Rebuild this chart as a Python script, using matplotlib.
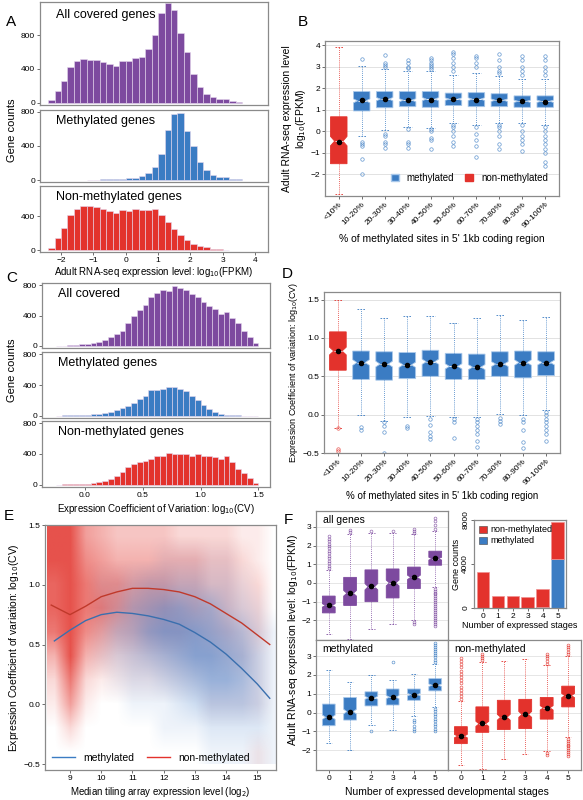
import matplotlib
matplotlib.use('Agg')
import matplotlib.pyplot as plt
from matplotlib.lines import Line2D
from matplotlib.patches import Patch
import numpy as np

plt.rcParams['font.family'] = ['Liberation Sans', 'DejaVu Sans']
plt.rcParams['font.size'] = 7

PURPLE = '#7d4a9f'
BLUE = '#3b7cc3'
RED = '#e3322c'
FRAME = '#8a8a8a'

# ---------------- data ----------------
# A: histograms of log10(FPKM), bins of 0.2
a_edges_all = -2.4
a_all = [30, 140, 260, 420, 490, 520, 510, 505, 480, 460, 440, 495, 490, 535, 540,
         630, 800, 1060, 1180, 1100, 820, 600, 340, 190, 110, 70, 50, 45, 20, 10]
a_meth_start = -1.2
a_meth = [3, 5, 10, 10, 15, 15, 25, 30, 55, 85, 150, 310, 590, 770, 790, 580, 400,
          210, 120, 60, 40, 40, 20, 10]
a_non = [25, 140, 260, 420, 490, 520, 525, 510, 490, 465, 440, 475, 470, 490, 480,
         480, 490, 420, 330, 250, 180, 120, 70, 50, 35, 20, 12, 8]

# C: histograms of log10(CV), bins of 0.05 from -0.25
c_all = [2, 3, 8, 12, 18, 25, 35, 55, 80, 110, 150, 200, 300, 390, 470, 540, 640, 700,
         740, 730, 790, 770, 740, 690, 640, 580, 530, 480, 420, 440, 370, 300, 200, 120, 40]
c_meth = [2, 3, 5, 10, 12, 15, 18, 25, 35, 50, 70, 100, 130, 170, 220, 260, 330, 340,
          350, 375, 370, 350, 320, 260, 200, 140, 90, 50, 25, 15, 8, 4, 2, 1, 0]
c_non = [1, 3, 5, 8, 10, 15, 20, 35, 50, 80, 110, 160, 230, 270, 300, 310, 330, 370,
         380, 410, 400, 400, 395, 380, 395, 370, 370, 360, 330, 370, 300, 200, 150, 90, 20]

meth_cats = ['<10%', '10-20%', '20-30%', '30-40%', '40-50%', '50-60%', '60-70%',
             '70-80%', '80-90%', '90-100%']
# B: (q1, med, q3, whislo, whishi, mean)
b_stats = [(-1.5, -0.45, 0.68, -2.9, 3.9, -0.47),
           (0.95, 1.42, 1.85, -0.22, 3.02, 1.45),
           (1.1, 1.5, 1.85, 0.07, 2.9, 1.5),
           (1.15, 1.45, 1.85, 0.22, 2.8, 1.46),
           (1.12, 1.5, 1.85, 0.18, 2.8, 1.48),
           (1.2, 1.5, 1.78, 0.4, 2.6, 1.5),
           (1.15, 1.5, 1.8, 0.3, 2.7, 1.48),
           (1.15, 1.45, 1.75, 0.38, 2.58, 1.45),
           (1.12, 1.4, 1.65, 0.38, 2.45, 1.39),
           (1.12, 1.4, 1.65, 0.3, 2.45, 1.38)]
b_fliers = [[],
            [3.35, -0.5, -0.6, -0.7, -1.3, -2.0],
            [3.55, 3.2, 3.1, 3.0, -0.1, -0.2, -0.5, -0.6, -0.75],
            [3.3, 3.2, 3.0, 2.95, 0.1, -0.5, -0.6, -0.75],
            [3.4, 3.3, 3.2, 3.1, 3.0, 2.9, 0.1, 0.0, -0.3, -0.4, -0.8],
            [3.7, 3.6, 3.4, 3.2, 3.0, 2.8, 0.3, 0.2, 0.0, -0.2, -0.5, -0.7],
            [3.5, 3.4, 3.2, 3.0, 0.2, -0.1, -0.4, -0.7, -1.2],
            [3.6, 3.3, 3.0, 2.8, 2.7, 0.3, 0.2, 0.0, -0.2, -0.6, -0.8],
            [3.5, 3.3, 3.0, 2.8, 2.6, 0.3, 0.0, -0.2, -0.4, -0.6, -0.9],
            [3.5, 3.3, 3.0, 2.8, 2.6, 0.2, 0.0, -0.2, -0.4, -0.6, -0.8, -1.0, -1.4, -1.6]]
# D
d_stats = [(0.58, 0.83, 1.08, -0.18, 1.5, 0.83),
           (0.46, 0.68, 0.83, 0.0, 1.38, 0.68),
           (0.45, 0.66, 0.82, -0.08, 1.26, 0.66),
           (0.47, 0.65, 0.81, -0.03, 1.29, 0.65),
           (0.5, 0.69, 0.84, -0.02, 1.29, 0.69),
           (0.46, 0.63, 0.8, -0.03, 1.19, 0.63),
           (0.46, 0.62, 0.79, -0.03, 1.26, 0.62),
           (0.5, 0.66, 0.82, 0.01, 1.3, 0.66),
           (0.48, 0.68, 0.83, 0.0, 1.24, 0.68),
           (0.51, 0.68, 0.82, 0.06, 1.27, 0.68)]
d_fliers = [[-0.18, -0.45, -0.48],
            [-0.16, -0.2],
            [-0.1, -0.15, -0.23, -0.5],
            [-0.15, -0.17],
            [-0.06, -0.14, -0.22, -0.28, -0.32],
            [-0.06, -0.1, -0.31],
            [-0.05, -0.1, -0.15, -0.2, -0.25, -0.34, -0.42],
            [-0.04, -0.08, -0.12],
            [-0.06, -0.1, -0.2, -0.35, -0.43],
            [0.04, 0.0, -0.05, -0.1, -0.15, -0.2, -0.25, -0.34]]

# E: density grids (rows: y from 1.4 down to -0.4, cols: x 8.5 .. 15.5)
e_x = np.arange(8.5, 15.51, 0.5)
e_y = np.arange(1.4, -0.41, -0.2)
e_red = np.array([
    [9, 9, 5, 4, 3, 3, 3, 3, 2, 2, 2, 2, 1, 1, 0],
    [9, 9, 6, 5, 4, 4, 4, 4, 4, 4, 3, 3, 2, 1, 0],
    [8, 9, 7, 6, 6, 5, 5, 5, 4, 4, 3, 3, 2, 2, 0],
    [8, 9, 7, 7, 6, 5, 5, 5, 4, 4, 3, 3, 2, 2, 0],
    [7, 9, 6, 5, 4, 4, 4, 4, 4, 3, 3, 3, 2, 2, 0],
    [4, 9, 4, 3, 2, 2, 2, 2, 2, 2, 2, 2, 2, 1, 0],
    [2, 7, 2, 1, 1, 1, 1, 1, 1, 1, 1, 1, 1, 1, 0],
    [1, 5, 1, 0, 0, 0, 0, 0, 0, 0, 1, 1, 1, 1, 0],
    [0, 2, 0, 0, 0, 0, 0, 0, 0, 0, 0, 0, 0, 0, 0],
    [0, 0, 0, 0, 0, 0, 0, 0, 0, 0, 0, 0, 0, 1, 0]])
e_blue = np.array([
    [0, 0, 0, 0, 0, 0, 0, 0, 0, 0, 0, 0, 0, 0, 0],
    [0, 0, 0, 0, 0, 0, 0, 1, 1, 1, 1, 1, 0, 0, 0],
    [0, 0, 0, 1, 1, 2, 3, 3, 3, 3, 2, 2, 1, 0, 0],
    [0, 0, 0, 1, 2, 4, 5, 6, 6, 5, 5, 3, 2, 1, 0],
    [0, 0, 0, 1, 3, 4, 6, 7, 7, 7, 6, 5, 4, 2, 1],
    [0, 0, 0, 1, 2, 3, 4, 5, 6, 7, 7, 6, 5, 3, 1],
    [0, 0, 0, 0, 1, 2, 2, 3, 4, 5, 6, 6, 5, 3, 1],
    [0, 0, 0, 0, 0, 1, 1, 1, 2, 3, 4, 4, 4, 3, 1],
    [0, 0, 0, 0, 0, 0, 0, 1, 1, 1, 2, 2, 2, 2, 1],
    [0, 0, 0, 0, 0, 0, 0, 0, 0, 0, 1, 1, 1, 1, 1]])
fit_x_red = [8.4, 9, 9.5, 10, 10.5, 11, 11.5, 12, 12.5, 13, 13.5, 14, 14.5, 15, 15.4]
fit_y_red = [0.83, 0.75, 0.82, 0.9, 0.94, 0.97, 0.97, 0.96, 0.94, 0.9, 0.84, 0.76, 0.68, 0.58, 0.5]
fit_x_blue = [8.5, 9, 9.5, 10, 10.5, 11, 11.5, 12, 12.5, 13, 13.5, 14, 14.5, 15, 15.4]
fit_y_blue = [0.53, 0.62, 0.7, 0.75, 0.77, 0.76, 0.74, 0.71, 0.67, 0.6, 0.52, 0.42, 0.3, 0.17, 0.05]

# F
stages = [0, 1, 2, 3, 4, 5]
f_all = [(-1.6, -1.2, -0.7, -2.75, 0.7, -1.2), (-1.2, -0.55, 0.3, -3.0, 2.6, -0.52),
         (-1.0, -0.2, 0.7, -2.45, 2.7, -0.15), (-0.8, 0.0, 0.75, -2.2, 2.7, 0.0),
         (-0.3, 0.3, 0.85, -2.0, 2.6, 0.3), (0.95, 1.3, 1.7, -0.2, 2.8, 1.32)]
f_all_fl = [list(np.linspace(0.8, 2.5, 14)), [2.75, 2.85], [2.8], [2.8],
            [2.7, 2.8, 2.9, -2.1, -2.2], list(np.linspace(-2.3, -0.3, 20)) + [2.9, 3.1, 3.3, 3.5]]
f_meth = [(-0.7, -0.25, 0.45, -1.6, 2.25, -0.25), (-0.4, 0.05, 0.8, -2.0, 1.6, 0.05),
          (0.35, 0.78, 1.1, -0.65, 2.0, 0.78), (0.4, 0.82, 1.25, -0.95, 1.75, 0.82),
          (0.65, 0.95, 1.25, -0.2, 2.05, 0.95), (1.15, 1.45, 1.8, 0.3, 2.6, 1.47)]
f_meth_fl = [[], [], [-1.0], [2.7], [-0.4, -0.5, -0.7, -0.85, -1.0],
             list(np.linspace(2.7, 3.7, 10)) + list(np.linspace(-1.0, 0.2, 10))]
f_non = [(-1.65, -1.25, -0.75, -2.8, 0.6, -1.25), (-1.05, -0.6, 0.3, -3.0, 2.7, -0.58),
         (-0.9, -0.25, 0.65, -2.45, 2.75, -0.25), (-0.85, -0.1, 0.7, -2.2, 2.85, -0.08),
         (-0.35, 0.25, 0.8, -2.05, 2.5, 0.25), (0.3, 0.9, 1.4, -1.3, 3.0, 0.9)]
f_non_fl = [list(np.linspace(0.7, 2.9, 14)), [2.8, 2.9, 3.0, 3.1], [], [],
            [2.6, 2.75, 2.9, 3.0, 3.1, -2.15, -2.25], list(np.linspace(3.1, 3.6, 5)) + list(np.linspace(-2.3, -1.4, 10))]
inset_non = [3300, 1050, 1050, 950, 1700, 3400]
inset_meth = [0, 0, 0, 20, 60, 4450]

# ---------------- helpers ----------------
fig = plt.figure(figsize=(5.83, 8.0), dpi=100)


def ax_px(l, t, r, b):
    return fig.add_axes([l / 583, 1 - b / 800, (r - l) / 583, (b - t) / 800])


def frame(ax):
    for s in ax.spines.values():
        s.set_color(FRAME)
        s.set_linewidth(0.9)
    ax.tick_params(length=2, width=0.6, color='#555555', labelsize=6, pad=1.5)


def hist(ax, start, width, counts, color, label, ylim, yt):
    x = start + width * np.arange(len(counts))
    ax.bar(x, counts, width=width, align='edge', color=color, edgecolor='#e6d8ee', linewidth=0.4)
    ax.set_ylim(*ylim)
    ax.set_yticks(yt)
    ax.text(0.07, 0.93, label, transform=ax.transAxes, fontsize=9, va='top')
    frame(ax)


def boxes(ax, stats, fliers, colors, pos, width=0.6, notch=True, ms=2.5):
    for i, (st, fl) in enumerate(zip(stats, fliers)):
        q1, med, q3, lo, hi, mean = st
        c = colors[i] if isinstance(colors, list) else colors
        ci = (q3 - q1) * 0.1
        d = dict(q1=q1, med=med, q3=q3, whislo=lo, whishi=hi, fliers=fl,
                 cilo=med - ci, cihi=med + ci, mean=mean)
        ax.bxp([d], positions=[pos[i]], widths=width, shownotches=notch, patch_artist=True,
               showmeans=True,
               boxprops=dict(facecolor=c, edgecolor='#a9c8ea' if c == BLUE else c, linewidth=0.6),
               medianprops=dict(color='white', linewidth=0.6),
               whiskerprops=dict(color=c, linestyle=(0, (1, 1.5)), linewidth=0.6),
               capprops=dict(color=c, linestyle=(0, (2, 1.5)), linewidth=0.6),
               flierprops=dict(marker='o', markersize=ms, markerfacecolor='none',
                               markeredgecolor=c, markeredgewidth=0.5, alpha=0.8),
               meanprops=dict(marker='o', markersize=3, markerfacecolor='black',
                              markeredgecolor='black'))


# ---------------- A ----------------
axA1 = ax_px(40, 2, 268, 105)
axA2 = ax_px(40, 110, 268, 182)
axA3 = ax_px(40, 186, 268, 252)
hist(axA1, a_edges_all, 0.2, a_all, PURPLE, 'All covered genes', (-25, 1190), [0, 400, 800])
hist(axA2, a_meth_start, 0.2, a_meth, BLUE, 'Methylated genes', (-20, 820), [0, 400, 800])
hist(axA3, a_edges_all, 0.2, a_non, RED, 'Non-methylated genes', (-20, 760), [0, 400])
for ax in (axA1, axA2, axA3):
    ax.set_xlim(-2.65, 4.4)
for ax in (axA1, axA2):
    ax.set_xticks([])
axA3.set_xticks(range(-2, 5))
axA3.set_xticklabels(['\u22122', '\u22121', '0', '1', '2', '3', '4'])
axA3.set_xlabel('Adult RNA-seq expression level: log$_{10}$(FPKM)', fontsize=7, labelpad=1)
fig.text(12 / 583, 1 - 130 / 800, 'Gene counts', rotation=90, fontsize=8, ha='center', va='center')

# ---------------- B ----------------
axB = ax_px(325, 41, 559, 196)
boxes(axB, b_stats, b_fliers, [RED] + [BLUE] * 9, list(range(1, 11)), width=0.72)
axB.set_ylim(-3.0, 4.2)
axB.set_xlim(0.4, 10.6)
axB.set_yticks([-2, -1, 0, 1, 2, 3, 4])
axB.set_yticklabels(['\u22122', '\u22121', '0', '1', '2', '3', '4'])
axB.yaxis.grid(True, color='#dddddd', linewidth=0.6)
axB.set_axisbelow(True)
axB.set_xticks(range(1, 11))
axB.set_xticklabels(meth_cats, rotation=45, ha='right', rotation_mode='anchor')
frame(axB)
axB.set_ylabel('Adult RNA-seq expression level\nlog$_{10}$(FPKM)', fontsize=7.5, labelpad=2)
axB.set_xlabel("% of methylated sites in 5' 1kb coding region", fontsize=7.5, labelpad=3)
axB.legend(handles=[Patch(facecolor=BLUE, edgecolor='#a9c8ea', label='methylated'),
                    Patch(facecolor=RED, edgecolor=RED, label='non-methylated')],
           loc='lower right', ncol=2, frameon=False, fontsize=7, handlelength=0.8,
           handleheight=0.8, columnspacing=1.2, bbox_to_anchor=(0.99, 0.03))

# ---------------- C ----------------
axC1 = ax_px(42, 283, 270, 348)
axC2 = ax_px(42, 352, 270, 418)
axC3 = ax_px(42, 421, 270, 487)
hist(axC1, -0.25, 0.05, c_all, PURPLE, 'All covered', (-30, 830), [0, 400, 800])
hist(axC2, -0.25, 0.05, c_meth, BLUE, 'Methylated genes', (-30, 830), [0, 400, 800])
hist(axC3, -0.25, 0.05, c_non, RED, 'Non-methylated genes', (-30, 830), [0, 400, 800])
for ax in (axC1, axC2, axC3):
    ax.set_xlim(-0.37, 1.6)
for ax in (axC1, axC2):
    ax.set_xticks([])
axC3.set_xticks([0.0, 0.5, 1.0, 1.5])
axC3.set_xticklabels(['0.0', '0.5', '1.0', '1.5'])
axC3.set_xlabel('Expression Coefficient of Variation: log$_{10}$(CV)', fontsize=7, labelpad=2)
fig.text(12 / 583, 1 - 370 / 800, 'Gene counts', rotation=90, fontsize=8, ha='center', va='center')

# ---------------- D ----------------
axD = ax_px(324, 292, 560, 453)
boxes(axD, d_stats, d_fliers, [RED] + [BLUE] * 9, list(range(1, 11)), width=0.72)
axD.set_ylim(-0.5, 1.6)
axD.set_xlim(0.4, 10.6)
axD.set_yticks([-0.5, 0, 0.5, 1.0, 1.5])
axD.set_yticklabels(['\u22120.5', '0.0', '0.5', '1.0', '1.5'])
axD.yaxis.grid(True, color='#dddddd', linewidth=0.6)
axD.set_axisbelow(True)
axD.set_xticks(range(1, 11))
axD.set_xticklabels(meth_cats, rotation=45, ha='right', rotation_mode='anchor')
frame(axD)
axD.set_ylabel('Expression Coefficient of variation: log$_{10}$(CV)', fontsize=6.5, labelpad=2)
axD.set_xlabel("% of methylated sites in 5' 1kb coding region", fontsize=7, labelpad=3)

# ---------------- E ----------------
axE = ax_px(45, 525, 276, 770)
ext = [e_x[0] - 0.25, e_x[-1] + 0.25, e_y[-1] - 0.1, e_y[0] + 0.1]
for grid, rgb in ((e_red, (0.89, 0.2, 0.17)), (e_blue, (0.3, 0.52, 0.8))):
    img = np.zeros(grid.shape + (4,))
    img[..., :3] = rgb
    img[..., 3] = grid / 9 * 0.85
    axE.imshow(img, extent=ext, aspect='auto', interpolation='bilinear', zorder=1)
axE.plot(fit_x_red, fit_y_red, color='#c0392b', lw=1.0, zorder=3)
axE.plot(fit_x_blue, fit_y_blue, color='#3a6fae', lw=1.0, zorder=3)
axE.set_xlim(8.2, 15.6)
axE.set_ylim(-0.55, 1.5)
axE.set_xticks(range(9, 16))
axE.set_yticks([-0.5, 0, 0.5, 1.0, 1.5])
axE.set_yticklabels(['\u22120.5', '0.0', '0.5', '1.0', '1.5'])
frame(axE)
axE.set_xlabel('Median tiling array expression level (log$_2$)', fontsize=7, labelpad=2)
axE.set_ylabel('Expression Coefficient of variation: log$_{10}$(CV)', fontsize=7.5, labelpad=2)
leg = axE.legend(handles=[Line2D([], [], color=BLUE, lw=1, label='methylated'),
                          Line2D([], [], color=RED, lw=1, label='non-methylated')],
                 loc='lower left', ncol=2, frameon=False, fontsize=7.5, handlelength=2.2,
                 columnspacing=1.2, borderaxespad=0.3)

# ---------------- F ----------------
axF1 = ax_px(316, 511, 448, 640)
axF2 = ax_px(316, 640, 448, 770)
axF3 = ax_px(448, 640, 581, 770)
axIn = ax_px(474, 520, 566, 608)
for ax, st, fl, c, lab in ((axF1, f_all, f_all_fl, PURPLE, 'all genes'),
                           (axF2, f_meth, f_meth_fl, BLUE, 'methylated'),
                           (axF3, f_non, f_non_fl, RED, 'non-methylated')):
    boxes(ax, st, fl, c, stages, width=0.6, ms=2)
    ax.set_ylim(-3.05, 3.85)
    ax.set_xlim(-0.6, 5.6)
    ax.set_yticks([-2, -1, 0, 1, 2, 3])
    ax.set_yticklabels(['\u22122', '\u22121', '0', '1', '2', '3'])
    ax.yaxis.grid(True, color='#e2e2e2', linewidth=0.6)
    ax.set_axisbelow(True)
    ax.set_xticks(stages)
    frame(ax)
    ax.text(0.05, 0.97, lab, transform=ax.transAxes, fontsize=7.5, va='top')
axF1.set_xticklabels([])
axF1.tick_params(axis='x', length=0)
axF3.tick_params(axis='y', labelleft=False, length=0)
fig.text(293 / 583, 1 - 640 / 800, 'Adult RNA-seq expression level: log$_{10}$(FPKM)',
         rotation=90, fontsize=7.5, ha='center', va='center')
fig.text(447 / 583, 1 - 792 / 800, 'Number of expressed developmental stages',
         fontsize=7.5, ha='center', va='center')

axIn.bar(stages, inset_meth, width=0.85, color=BLUE, edgecolor='#a9c8ea', linewidth=0.5)
axIn.bar(stages, inset_non, bottom=inset_meth, width=0.85, color=RED,
         edgecolor='#f09090', linewidth=0.5)
axIn.set_ylim(0, 8000)
axIn.set_xlim(-0.6, 5.55)
axIn.set_xticks(stages)
axIn.set_yticks([0, 4000, 8000])
axIn.set_yticklabels(['0', '4000', '8000'], rotation=90, va='center')
frame(axIn)
axIn.set_ylabel('Gene counts', fontsize=6.5, labelpad=1)
axIn.set_xlabel('Number of expressed stages', fontsize=6.5, labelpad=1)
axIn.legend(handles=[Patch(facecolor=RED, edgecolor='#444444', lw=0.4, label='non-methylated'),
                     Patch(facecolor=BLUE, edgecolor='#444444', lw=0.4, label='methylated')],
            loc='upper left', frameon=False, fontsize=6.5, handlelength=0.8, handleheight=0.8,
            labelspacing=0.2, borderaxespad=0.2, handletextpad=0.4)

# panel letters
for lab, x, y in (('A', 6, 22), ('B', 298, 22), ('C', 6, 278), ('D', 282, 274),
                  ('E', 4, 516), ('F', 284, 520)):
    fig.text(x / 583, 1 - y / 800, lab, fontsize=11, va='center')

fig.savefig('out.png', dpi=100)
